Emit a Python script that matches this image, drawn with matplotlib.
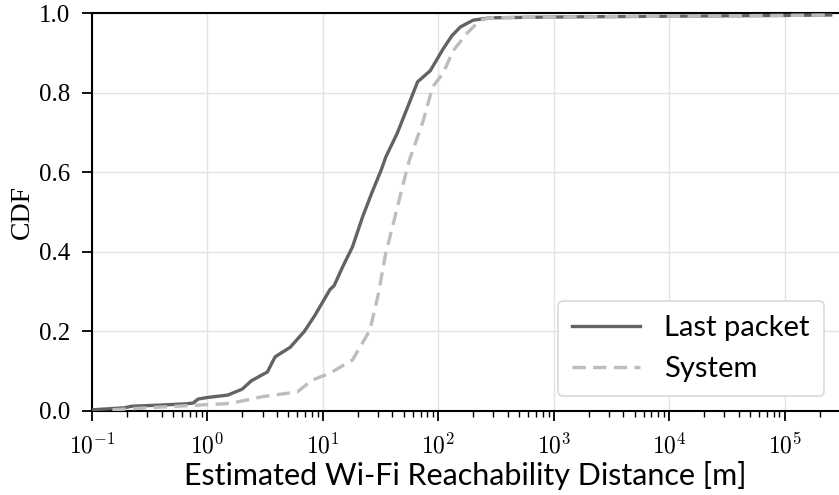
import matplotlib
matplotlib.use("Agg")
import matplotlib.pyplot as plt
from matplotlib.ticker import LogLocator, NullFormatter

# Data
last_x = [0.1, 0.19, 0.22, 0.4, 0.65, 0.75, 0.83, 1.0, 1.5, 2.0, 2.4, 3.3, 3.85, 5.2, 6.9, 8.5,
          10, 11.5, 12.5, 14.8, 18, 22, 26.5, 32, 35, 44, 57, 66, 85, 110, 131, 155, 200, 280,
          1e3, 1e4, 1e5, 2.5e5]
last_y = [0.003, 0.008, 0.012, 0.015, 0.018, 0.02, 0.03, 0.034, 0.04, 0.055, 0.076, 0.098, 0.136,
          0.16, 0.2, 0.24, 0.275, 0.305, 0.315, 0.362, 0.412, 0.487, 0.548, 0.606, 0.638, 0.698,
          0.78, 0.827, 0.855, 0.91, 0.943, 0.965, 0.982, 0.988, 0.99, 0.992, 0.994, 0.995]

sys_x = [0.15, 0.2, 0.4, 0.86, 1.57, 3.0, 6.0, 8.1, 11.5, 18, 25.5, 30, 35, 40, 48, 56, 74, 89,
         110, 134, 178, 230, 280, 1e3, 1e4, 1e5, 2.5e5]
sys_y = [0.003, 0.005, 0.01, 0.015, 0.019, 0.036, 0.048, 0.078, 0.095, 0.128, 0.203, 0.29, 0.397,
         0.462, 0.555, 0.63, 0.73, 0.814, 0.849, 0.905, 0.95, 0.982, 0.988, 0.99, 0.992, 0.994,
         0.995]

series_labels = ["Last packet", "System"]
x_label = "Estimated Wi-Fi Reachability Distance [m]"
y_label = "CDF"
y_ticks = [0.0, 0.2, 0.4, 0.6, 0.8, 1.0]
x_ticks = [1e-1, 1e0, 1e1, 1e2, 1e3, 1e4, 1e5]
x_tick_labels = [r"$10^{-1}$", r"$10^{0}$", r"$10^{1}$", r"$10^{2}$", r"$10^{3}$",
                 r"$10^{4}$", r"$10^{5}$"]

plt.rcParams["mathtext.fontset"] = "cm"

fig = plt.figure(figsize=(8.39, 4.95), dpi=100)
ax = fig.add_axes([0.1097, 0.1697, 0.8903, 0.804])

ax.plot(last_x, last_y, color="#636363", lw=2.4, label=series_labels[0], zorder=3)
ax.plot(sys_x, sys_y, color="#bdbdbd", lw=2.4, ls=(0, (4, 2.2)), label=series_labels[1], zorder=3)

ax.set_xscale("log")
ax.set_xlim(0.1, 2.95e5)
ax.set_ylim(0.0, 1.0)
ax.set_xticks(x_ticks)
ax.set_xticklabels(x_tick_labels, fontsize=17)
ax.xaxis.set_minor_locator(LogLocator(base=10, subs=range(2, 10), numticks=20))
ax.xaxis.set_minor_formatter(NullFormatter())
ax.set_yticks(y_ticks)
ax.set_yticklabels([f"{v:.1f}" for v in y_ticks], family="Liberation Serif", fontsize=18)

ax.grid(True, which="major", color="#e3e3e3", lw=1.0, zorder=0)
ax.set_axisbelow(True)

for s in ["left", "bottom", "top"]:
    ax.spines[s].set_linewidth(1.5)
    ax.spines[s].set_color("black")
ax.spines["right"].set_visible(False)

ax.tick_params(axis="y", which="major", length=7, width=1.3, pad=9, direction="out")
ax.tick_params(axis="x", which="major", length=7, width=1.3, pad=9, direction="out")
ax.tick_params(axis="x", which="minor", length=4, width=1.0)

ax.set_xlabel(x_label, family="Lato", fontsize=22, labelpad=2)
ax.set_ylabel(y_label, family="Liberation Serif", fontsize=20, labelpad=3)

leg = ax.legend(loc="lower right", prop={"family": "Lato", "size": 21}, frameon=True,
                fancybox=True, edgecolor="#d9d9d9", framealpha=1.0, borderpad=0.5,
                handlelength=2.3, handletextpad=0.85, labelspacing=0.5, borderaxespad=0.5)
leg.get_frame().set_linewidth(1.2)

fig.savefig("out.png", dpi=100)
